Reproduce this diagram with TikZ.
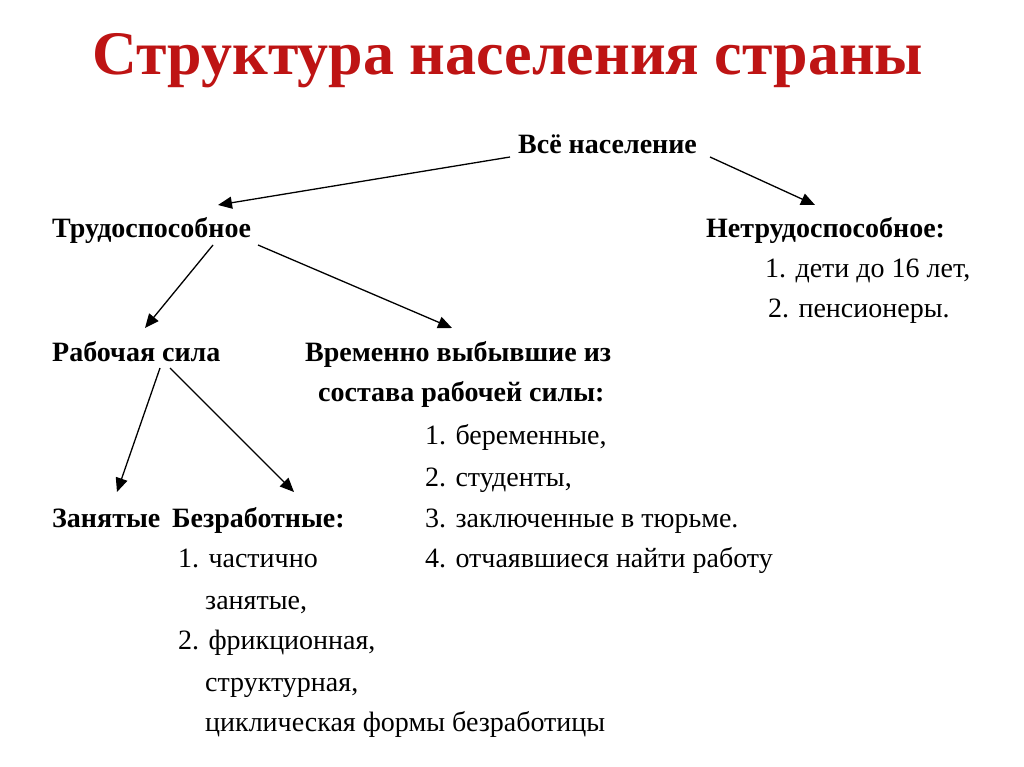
\documentclass[tikz,border=0pt]{standalone}
\usepackage{fontspec}
\setmainfont{Liberation Serif}
\usetikzlibrary{arrows.meta}
\begin{document}
\begin{tikzpicture}[x=1pt,y=-1pt,
  t/.style={anchor=base west,inner sep=0pt,font=\fontsize{28}{32}\selectfont},
  b/.style={t,font=\fontsize{28}{32}\selectfont\bfseries},
  arr/.style={line width=1.3pt,-{Triangle[length=14pt,width=12pt]}}]
\useasboundingbox (0,0) rectangle (1024,767);
\fill[white] (0,0) rectangle (1024,767);
\node[anchor=base,inner sep=0pt,font=\fontsize{62}{68}\selectfont\bfseries,text={rgb,255:red,190;green,20;blue,20}] (title) at (508,75) {Структура населения страны};
\node[b] (all) at (518,154) {Всё население};
\node[b] (work) at (52,237) {Трудоспособное};
\node[b] (nowork) at (706,237) {Нетрудоспособное:};
\node[t] (n1) at (765,277) {1. дети до 16 лет,};
\node[t] (n2) at (768,317) {2. пенсионеры.};
\node[b] (force) at (52,361) {Рабочая сила};
\node[b] (temp1) at (305,361) {Временно выбывшие  из};
\node[b] (temp2) at (318,401) {состава рабочей силы:};
\node[t] (t1) at (425,444) {1. беременные,};
\node[t] (t2) at (425,486) {2. студенты,};
\node[t] (t3) at (425,527) {3. заключенные в тюрьме.};
\node[t] (t4) at (425,567) {4. отчаявшиеся найти работу};
\node[b] (emp) at (52,527) {Занятые};
\node[b] (unemp) at (172,527) {Безработные:};
\node[t] (u1) at (178,567) {1. частично};
\node[t] (u1b) at (205,609) {занятые,};
\node[t] (u2) at (178,649) {2. фрикционная,};
\node[t] (u2b) at (205,691) {структурная,};
\node[t] (u2c) at (205,731) {циклическая формы безработицы};
\coordinate (a0) at (510,157); \coordinate (a1) at (218,205);
\coordinate (b0) at (710,157); \coordinate (b1) at (815,205);
\coordinate (c0) at (213,245); \coordinate (c1) at (145,328);
\coordinate (d0) at (258,245); \coordinate (d1) at (452,328);
\coordinate (e0) at (160,368); \coordinate (e1) at (117,492);
\coordinate (f0) at (170,368); \coordinate (f1) at (294,492);
\draw[arr] (a0) -- (a1);
\draw[arr] (b0) -- (b1);
\draw[arr] (c0) -- (c1);
\draw[arr] (d0) -- (d1);
\draw[arr] (e0) -- (e1);
\draw[arr] (f0) -- (f1);
\end{tikzpicture}
\end{document}
